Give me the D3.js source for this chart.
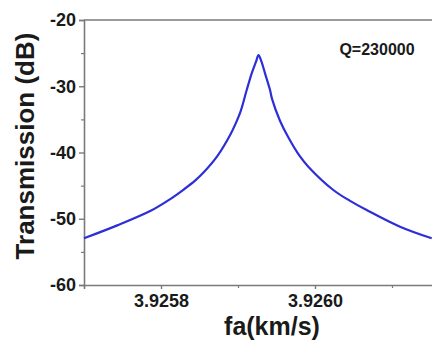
<!DOCTYPE html>
<html>
<head>
<meta charset="utf-8">
<script src="https://cdn.jsdelivr.net/npm/d3@7"></script>
<style>
  html, body { margin: 0; padding: 0; background: #fff; }
  svg { display: block; }
  text { font-family: "Liberation Sans", Arial, sans-serif; font-weight: bold; fill: #1a1a1a; }
</style>
</head>
<body>
<svg id="chart" width="432" height="341"></svg>
<script>
// Data
const velocity = [3.925700, 3.9257432, 3.9257866, 3.9258104, 3.9258299, 3.9258442, 3.9258558, 3.9258731,
  3.9258905, 3.9258961, 3.9259035, 3.9259113, 3.9259178, 3.9259234, 3.9259266, 3.9259305, 3.9259351,
  3.9259416, 3.9259442, 3.9259545, 3.9259653, 3.9259805, 3.9259913, 3.9260238, 3.9260455, 3.9260671,
  3.9261104, 3.9261516];
const transmission = [-52.95, -51.00, -48.80, -47.15, -45.55, -44.25, -42.95, -40.55,
  -37.20, -35.85, -33.75, -30.57, -28.05, -26.30, -25.28, -26.30, -28.05,
  -30.57, -31.90, -35.20, -37.70, -40.60, -42.14, -45.66, -47.30, -48.68,
  -51.20, -52.95];
const xTicks = [3.9258, 3.9260];
const xMinorTicks = [3.9259, 3.9261];
const yTicks = [-20, -30, -40, -50, -60];
const yMinorTicks = [-25, -35, -45, -55];
const qLabel = "Q=230000";

const svg = d3.select("#chart");
const mLeft = 84, mTop = 20, mBottom = 285, mRight = 469;

const x = d3.scaleLinear().domain([3.9257, 3.9262]).range([mLeft, mRight]);
const y = d3.scaleLinear().domain([-60, -20]).range([mBottom, mTop]);

const axisColor = "#7a7a7a";

// Frame (top border; right side is beyond the crop)
svg.append("line").attr("x1", mLeft).attr("x2", mRight).attr("y1", mTop).attr("y2", mTop)
  .attr("stroke", axisColor).attr("stroke-width", 1.6);

// Y axis
const yAxis = svg.append("g").attr("transform", `translate(${mLeft},0)`)
  .call(d3.axisLeft(y).tickValues(yTicks).tickSize(5).tickPadding(3).tickFormat(d => String(d)));
yAxis.select(".domain").attr("stroke", axisColor).attr("stroke-width", 1.6);
yAxis.selectAll(".tick line").attr("stroke", axisColor).attr("stroke-width", 1.4);
yAxis.selectAll("text").style("font-size", "18px").attr("fill", "#1a1a1a");
svg.append("g").attr("transform", `translate(${mLeft},0)`)
  .call(d3.axisLeft(y).tickValues(yMinorTicks).tickSize(3).tickFormat(""))
  .call(g => g.select(".domain").remove())
  .selectAll(".tick line").attr("stroke", axisColor).attr("stroke-width", 1.2);

// X axis
const xAxis = svg.append("g").attr("transform", `translate(0,${mBottom})`)
  .call(d3.axisBottom(x).tickValues(xTicks).tickSize(4).tickPadding(5).tickFormat(d => d.toFixed(4)));
xAxis.select(".domain").attr("stroke", axisColor).attr("stroke-width", 1.6);
xAxis.selectAll(".tick line").attr("stroke", axisColor).attr("stroke-width", 1.4);
xAxis.selectAll("text").style("font-size", "18px").attr("fill", "#1a1a1a");
svg.append("g").attr("transform", `translate(0,${mBottom})`)
  .call(d3.axisBottom(x).tickValues(xMinorTicks).tickSize(3).tickFormat(""))
  .call(g => g.select(".domain").remove())
  .selectAll(".tick line").attr("stroke", axisColor).attr("stroke-width", 1.2);

// Curve
const pts = velocity.map((v, i) => [v, transmission[i]]);
svg.append("path").datum(pts)
  .attr("fill", "none").attr("stroke", "#2e2ed8").attr("stroke-width", 2.2)
  .attr("d", d3.line().x(d => x(d[0])).y(d => y(d[1])).curve(d3.curveCatmullRom.alpha(0.5)));

// Labels
svg.append("text").attr("x", 377).attr("y", 55).attr("text-anchor", "middle")
  .style("font-size", "16px").text(qLabel);

svg.append("text").attr("x", 272).attr("y", 335).attr("text-anchor", "middle")
  .style("font-size", "25px").text("fa(km/s)");

svg.append("text").attr("transform", `translate(34,146) rotate(-90)`).attr("text-anchor", "middle")
  .style("font-size", "26px").text("Transmission (dB)");
</script>
</body>
</html>
